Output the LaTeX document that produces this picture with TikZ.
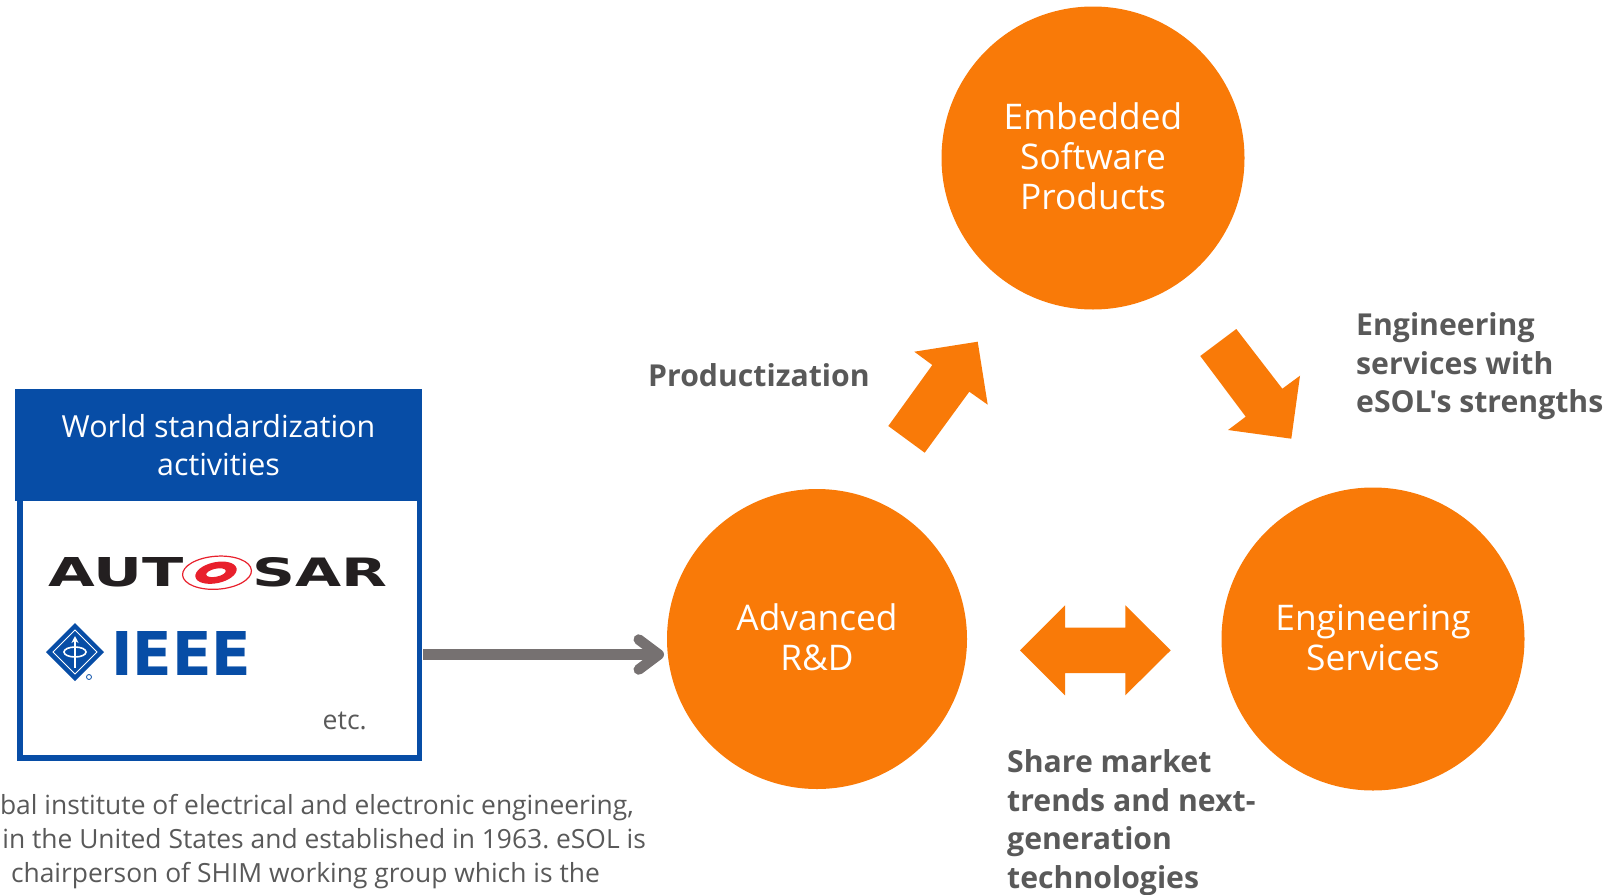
\documentclass[tikz,border=0pt]{standalone}
\usepackage{fontspec}
\setmainfont[Ligatures=TeXOff]{Open Sans}
\newfontfamily\logofont{DejaVu Sans}
\usetikzlibrary{arrows.meta}
\definecolor{esolorange}{HTML}{F97A08}
\definecolor{esolblue}{HTML}{074DA6}
\definecolor{esolgray}{HTML}{595959}
\definecolor{arrowgray}{HTML}{767171}
\definecolor{autosarred}{HTML}{E8202C}
\definecolor{autosarblack}{HTML}{231F20}
\begin{document}
\frenchspacing
\begin{tikzpicture}[x=1pt,y=-1pt,
    bizcircle/.style={circle,fill=esolorange,text=white,inner sep=0pt,minimum size=303pt,align=center,text depth=3pt,
      font=\fontsize{35.3}{40}\selectfont},
    boldlabel/.style={text=esolgray,align=left,inner sep=0pt,anchor=north west,
      font=\fontsize{30.2}{38.5}\selectfont\bfseries},
    noteline/.style={text=esolgray,inner sep=0pt,anchor=base east,font=\fontsize{26.4}{34}\selectfont},
    blockarrow/.style={fill=esolorange}]
  \useasboundingbox (0,0) rectangle (1611,894);

  %circles
  \node[bizcircle] (products) at (1093,158) {Embedded\\Software\\Products};
  \node[bizcircle,minimum size=300pt] (research) at (817,639) {Advanced\\R\&D};
  \node[bizcircle] (services) at (1373,639) {Engineering\\Services};

  %block arrows
  \fill[blockarrow] (888.3,426) -- (932.3,365) -- (914.3,351.7) -- (977.7,341.7) -- (987.7,404.7) -- (969.3,391.7) -- (924.7,452.7) -- cycle;
  \fill[blockarrow] (1236.3,329) -- (1282.3,388.7) -- (1300,375.7) -- (1291.3,438.7) -- (1228,430) -- (1245.7,416.7) -- (1200.3,356) -- cycle;
  \fill[blockarrow] (1020,650.3) -- (1065,605.3) -- (1065,627.7) -- (1125.3,627.7) -- (1125.3,605.3) -- (1170.7,650.3)
    -- (1125.3,695.3) -- (1125.3,673) -- (1065,673) -- (1065,695.3) -- cycle;

  %labels
  \node[boldlabel] (productization) at (648,363.5) {Productization};
  \node[boldlabel] (strengths) at (1356,312.5) {Engineering\\services with\\eSOL's strengths};
  \node[boldlabel] (share) at (1007,749.5) {Share market\\trends and next-\\generation\\technologies};

  %standardization box
  \node[draw=esolblue,line width=5.5pt,minimum width=399.5pt,minimum height=295pt,inner sep=0pt] (stdbox) at (219.8,610.5) {};
  \node[fill=esolblue,text=white,minimum width=407pt,minimum height=111.5pt,inner sep=0pt,align=center,
    font=\fontsize{30.4}{38.5}\selectfont] (stdhead) at (218.5,445) {World standardization\\activities};
  \node[text=esolgray,inner sep=0pt,anchor=base east,font=\fontsize{26.6}{34}\selectfont] (etc) at (367,729) {etc.};

  %autosar logo
  \node[text=autosarblack,inner sep=0pt,anchor=west] (aut) at (48,572.7) {\resizebox{135pt}{29pt}{\logofont\bfseries AUT}};
  \node[text=autosarblack,inner sep=0pt,anchor=east] (sar) at (388,572.7) {\resizebox{135pt}{29pt}{\logofont\bfseries SAR}};
  \draw[autosarred,line width=1.2pt,rotate around={4:(217,572.7)}] (217,572.7) ellipse (34.5pt and 16.5pt);
  \fill[autosarred,even odd rule,rotate around={12:(216,572.7)}] (216,572.7) ellipse (21pt and 10.5pt) ellipse (10pt and 4pt);

  %ieee logo
  \fill[esolblue] (46,652) -- (75,623) -- (104,652) -- (75,681) -- cycle;
  \draw[white,line width=1pt] (53,652) -- (75,630) -- (97,652) -- (75,674) -- cycle;
  \draw[white,line width=1.6pt] (75,652) ellipse (11pt and 5pt);
  \draw[white,line width=2pt,-{Stealth[length=7pt,width=7pt]}] (75,668) -- (75,636);
  \draw[esolblue,line width=.8pt] (89,677) circle (2.5pt);
  \node[text=esolblue,inner sep=0pt,anchor=west] (ieee) at (111,653.8) {\resizebox{140pt}{44pt}{\logofont\bfseries IEEE}};

  %gray arrow
  \coordinate (arrowend) at (664,654.5);
  \draw[arrowgray,line width=10.5pt,shorten <=1pt,-{Straight Barb[length=20pt,width=30pt,round]}] (stdbox.east |- arrowend) -- (arrowend);

  %note
  \node[noteline] (noteone) at (634,814) {bal institute of electrical and electronic engineering,};
  \node[noteline] (notetwo) at (646,848) {in the United States and established in 1963. eSOL is};
  \node[noteline] (notethree) at (600,882) {chairperson of SHIM working group which is the};
\end{tikzpicture}
\end{document}
